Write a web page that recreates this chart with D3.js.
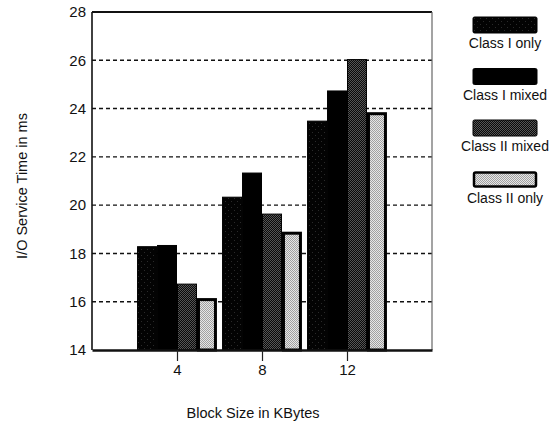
<!DOCTYPE html>
<html><head><meta charset="utf-8">
<script src="https://cdn.jsdelivr.net/npm/d3@7"></script>
<style>body{margin:0;background:#fff}svg{display:block}text{font-family:"Liberation Sans",Arial,sans-serif;fill:#111}</style>
</head><body><svg id="c" width="558" height="426"></svg>
<script>
const categories = [4, 8, 12];
const series = ["Class I only", "Class I mixed", "Class II mixed", "Class II only"];
const classIOnly   = [18.3, 20.35, 23.5];
const classIMixed  = [18.35, 21.35, 24.75];
const classIIMixed = [16.75, 19.65, 26.05];
const classIIOnly  = [16.15, 18.9, 23.85];
const yTicks = [14, 16, 18, 20, 22, 24, 26, 28];
const xTicks = [4, 8, 12];
const values = [classIOnly, classIMixed, classIIMixed, classIIOnly];

const svg = d3.select("#c");
const x = d3.scaleLinear().domain([0, 16]).range([92, 432]);
const y = d3.scaleLinear().domain([14, 28]).range([350, 12]);

// patterns
const defs = svg.append("defs");
function dotPattern(id, bg, dot, size, r) {
  const p = defs.append("pattern").attr("id", id).attr("patternUnits", "userSpaceOnUse")
    .attr("width", size).attr("height", size);
  p.append("rect").attr("width", size).attr("height", size).attr("fill", bg);
  p.append("rect").attr("x", 0).attr("y", 0).attr("width", r).attr("height", r).attr("fill", dot);
  p.append("rect").attr("x", size/2).attr("y", size/2).attr("width", r).attr("height", r).attr("fill", dot);
}
dotPattern("pIOnly", "#030303", "#2a2a2a", 6, 1);
dotPattern("pIIMixed", "#0a0a0a", "#555", 2, 1);
dotPattern("pIIOnly", "#e6e6e6", "#a0a0a0", 2, 1);
const fills = ["url(#pIOnly)", "#000", "url(#pIIMixed)", "url(#pIIOnly)"];

// gridlines
svg.append("g").selectAll("line").data(yTicks.filter(t => t > 14 && t < 28)).join("line")
  .attr("x1", x(0)).attr("x2", x(16)).attr("y1", d => y(d)).attr("y2", d => y(d))
  .attr("stroke", "#111").attr("stroke-width", 1.4).attr("stroke-dasharray", "4,3");

// bars
const bw = x(0.94) - x(0);
const bars = svg.append("g");
series.forEach((s, i) => {
  bars.selectAll(null).data(categories.map((c, j) => ({c, v: values[i][j]}))).join("rect")
    .attr("x", d => x(d.c) + (i - 2) * bw + (i === 3 ? 1.5 : 0.5))
    .attr("width", bw - (i === 3 ? 3 : 1))
    .attr("y", d => y(d.v) + (i === 3 ? 1.5 : 0.5))
    .attr("height", d => y(14) - y(d.v) - (i === 3 ? 1.5 : 0.5))
    .attr("fill", fills[i]).attr("stroke", "#000").attr("stroke-width", i === 3 ? 3 : 1);
});

// frame
svg.append("line").attr("x1", x(0)).attr("x2", x(16)).attr("y1", y(28)).attr("y2", y(28)).attr("stroke", "#111").attr("stroke-width", 1.8);
svg.append("line").attr("x1", x(16)).attr("x2", x(16)).attr("y1", y(28)).attr("y2", y(14)).attr("stroke", "#666").attr("stroke-width", 1.2);
svg.append("line").attr("x1", x(0)).attr("x2", x(0)).attr("y1", y(28)).attr("y2", y(14)).attr("stroke", "#111").attr("stroke-width", 1.6);

// axes
const yAxis = svg.append("g").attr("transform", `translate(${x(0)},0)`)
  .call(d3.axisLeft(y).tickValues(yTicks).tickSize(0).tickPadding(6).tickFormat(d3.format("d")));
yAxis.select(".domain").remove();
yAxis.selectAll("text").attr("font-size", 15).attr("fill", "#111");

const xAxis = svg.append("g").attr("transform", `translate(0,${y(14)})`)
  .call(d3.axisBottom(x).tickValues(xTicks).tickSize(11).tickPadding(3).tickSizeOuter(0));
xAxis.select(".domain").attr("stroke", "#111").attr("stroke-width", 2.4);
xAxis.selectAll(".tick line").attr("stroke", "#222").attr("stroke-width", 1.2);
xAxis.selectAll("text").attr("font-size", 15).attr("fill", "#111");

// axis titles
svg.append("text").attr("transform", "translate(27,186) rotate(-90)").attr("text-anchor", "middle")
  .attr("font-size", 14.5).text("I/O Service Time in ms");
svg.append("text").attr("x", 253).attr("y", 418).attr("text-anchor", "middle")
  .attr("font-size", 14.5).text("Block Size in KBytes");

// legend
const leg = svg.append("g");
series.forEach((s, i) => {
  const top = 17 + i * 51.5;
  leg.append("rect").attr("x", i === 3 ? 474 : 473).attr("y", top + (i === 3 ? 1 : 0))
    .attr("width", i === 3 ? 62 : 64).attr("height", i === 3 ? 14 : 16)
    .attr("rx", 1.5)
    .attr("fill", fills[i]).attr("stroke", "#000").attr("stroke-width", i === 3 ? 2.5 : 1);
  leg.append("text").attr("x", 505).attr("y", top + 31).attr("text-anchor", "middle")
    .attr("font-size", 14).text(s);
});
</script></body></html>
